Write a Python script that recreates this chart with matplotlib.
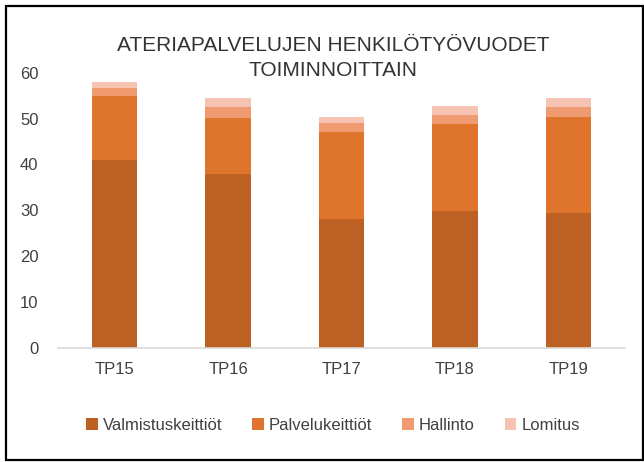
import matplotlib
matplotlib.use('Agg')
import matplotlib.pyplot as plt
from matplotlib.patches import Rectangle
import numpy as np

plt.rcParams['font.family'] = ['Liberation Sans', 'DejaVu Sans']

categories = ['TP15', 'TP16', 'TP17', 'TP18', 'TP19']
valmistus = [41.0, 37.9, 28.1, 29.9, 29.5]
palvelu = [13.9, 12.3, 19.0, 18.9, 20.9]
hallinto = [1.7, 2.4, 1.9, 2.0, 2.1]
lomitus = [1.4, 1.8, 1.4, 1.9, 1.9]

series = [
    ('Valmistuskeittiöt', valmistus, '#BC6123'),
    ('Palvelukeittiöt', palvelu, '#DF752C'),
    ('Hallinto', hallinto, '#F09A72'),
    ('Lomitus', lomitus, '#F6C3B3'),
]

text_color = '#404040'

fig = plt.figure(figsize=(6.44, 4.62), dpi=100)
ax = fig.add_axes([58 / 644, 1 - 348 / 462, (625 - 58) / 644, (348 - 72.7) / 462])

x = np.arange(len(categories))
bottom = np.zeros(len(categories))
handles = []
for name, vals, color in series:
    b = ax.bar(x, vals, width=0.4, bottom=bottom, color=color, label=name, linewidth=0)
    handles.append(b)
    bottom += np.array(vals)

ax.set_xlim(-0.5, len(categories) - 0.5)
ax.set_ylim(0, 60)
ax.set_yticks(range(0, 61, 10))
ax.set_xticks(x)
ax.set_xticklabels(categories)
ax.tick_params(axis='both', length=0, labelsize=12, colors=text_color)
ax.tick_params(axis='y', pad=14)
ax.tick_params(axis='x', pad=10)
for s in ['top', 'right', 'left']:
    ax.spines[s].set_visible(False)
ax.spines['bottom'].set_color('#D9D9D9')
ax.spines['bottom'].set_linewidth(1.2)

fig.text(333 / 644, 1 - 58 / 462, 'ATERIAPALVELUJEN HENKILÖTYÖVUODET\nTOIMINNOITTAIN',
         ha='center', va='center', fontsize=15, color='#333333', linespacing=1.35)

fig.legend(handles=handles, loc='center', bbox_to_anchor=(333 / 644, 1 - 425 / 462),
           ncol=4, frameon=False, fontsize=12, handlelength=0.7, handleheight=0.7,
           handletextpad=0.3, columnspacing=1.8, labelcolor=text_color)

fig.patches.append(Rectangle((6 / 644, 1 - 460 / 462), (642.5 - 6) / 644, (460 - 6) / 462,
                             transform=fig.transFigure, fill=False, edgecolor='black',
                             linewidth=1.6))

fig.savefig('out.png', dpi=100)
